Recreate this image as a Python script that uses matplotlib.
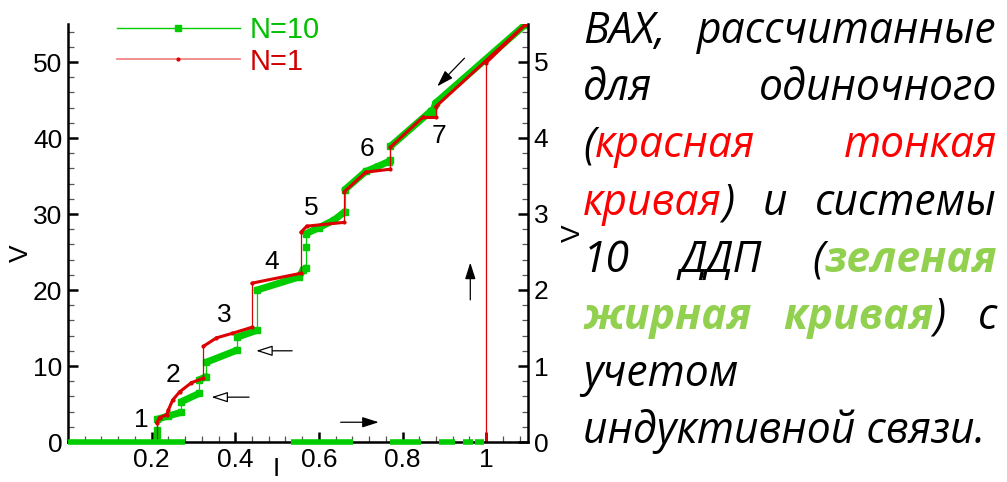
import numpy as np
import matplotlib
matplotlib.use('Agg')
import matplotlib.pyplot as plt
from matplotlib.collections import LineCollection
from matplotlib.lines import Line2D
from matplotlib.ticker import MultipleLocator, FixedLocator, FuncFormatter
import matplotlib.transforms as mtransforms

plt.rcParams['font.family'] = ['Liberation Sans', 'DejaVu Sans']

# ---- данные ----
# N=10, обратная ветвь (левая ось, V)
green_I = [1.093, 0.879, 0.872, 0.869, 0.771, 0.771, 0.767, 0.738, 0.712, 0.662,
           0.662, 0.636, 0.600, 0.569, 0.569, 0.569, 0.562, 0.552, 0.452, 0.452,
           0.405, 0.405, 0.331, 0.331, 0.314, 0.314, 0.271, 0.271, 0.238, 0.214,
           0.214, 0.214, 0.214]
green_V = [54.9, 44.6, 43.4, 43.6, 38.9, 37.1, 36.9, 36.2, 35.6, 33.2,
           30.3, 29.2, 28.2, 27.4, 25.6, 22.9, 22.6, 21.7, 20.0, 14.7,
           13.8, 12.1, 10.5, 8.6, 8.2, 6.4, 5.3, 3.9, 3.4, 3.0,
           1.6, 0.7, 0.0]
# N=10, прямая ветвь: участки V=0, где точки идут густо
green_zero_from = [0.0, 0.533, 0.769, 0.886, 0.945, 0.974]
green_zero_to = [0.280, 0.681, 0.845, 0.926, 0.969, 0.995]

# N=1 (правая ось, V)
red_fwd_I = [0.0, 1.0, 1.0]
red_fwd_V = [0.0, 0.0, 4.99]
red_I = [1.0, 1.093, 0.879, 0.879, 0.850, 0.771, 0.771, 0.712, 0.660, 0.660,
         0.571, 0.557, 0.557, 0.440, 0.440, 0.393, 0.355, 0.324, 0.324, 0.295,
         0.267, 0.250, 0.240, 0.236, 0.219, 0.212, 0.212]
red_V = [4.99, 5.49, 4.41, 4.28, 4.28, 3.88, 3.59, 3.55, 3.29, 2.89,
         2.84, 2.76, 2.22, 2.09, 1.51, 1.43, 1.37, 1.26, 0.84, 0.78,
         0.66, 0.55, 0.42, 0.36, 0.32, 0.25, 0.0]

step_labels = ['1', '2', '3', '4', '5', '6', '7']
step_I = [0.176, 0.250, 0.374, 0.486, 0.581, 0.714, 0.886]
step_V = [2.9, 8.8, 16.7, 23.7, 30.8, 38.6, 40.2]

# стрелки: (откуда I, V) -> (куда I, V), открытая головка или нет
arrow_from = [(0.948, 50.5), (0.962, 18.7), (0.652, 2.6), (0.536, 12.0), (0.433, 5.9)]
arrow_to = [(0.883, 46.8), (0.962, 23.6), (0.743, 2.6), (0.450, 12.0), (0.343, 5.9)]
arrow_open = [False, False, False, True, True]

GREEN = '#00cc00'
RED = '#dd0000'
FS = 19

fig = plt.figure(figsize=(10.07, 4.82), dpi=100)
W, H = 1007, 482
ax = fig.add_axes([68 / W, 40 / H, 460 / W, 418 / H])
ax2 = ax.twinx()

ax.set_xlim(0, 1.1)
ax.set_ylim(0, 55)
ax2.set_ylim(0, 5.5)


def split(I, V):
    pts = np.column_stack([I, V])
    segs = np.stack([pts[:-1], pts[1:]], axis=1)
    vert = np.isclose(segs[:, 0, 0], segs[:, 1, 0])
    return segs[~vert], segs[vert]


# зеленая (N=10) на левой оси
thick, thin = split(green_I, green_V)
ax.add_collection(LineCollection(thick, colors=GREEN, linewidths=5, capstyle='round', zorder=2))
ax.add_collection(LineCollection(thin, colors=GREEN, linewidths=0.9, zorder=2))
ax.plot(green_I, green_V, ls='none', marker='s', ms=4, color=GREEN, zorder=2)

# красная (N=1) на правой оси
ax2.plot(red_fwd_I, red_fwd_V, color=RED, lw=0.9, zorder=1)
thick, thin = split(red_I, red_V)
ax2.add_collection(LineCollection(thick, colors=RED, linewidths=2.2, capstyle='round', zorder=2))
ax2.add_collection(LineCollection(thin, colors=RED, linewidths=0.9, zorder=2))
ax2.plot(red_I, red_V, ls='none', marker='o', ms=2, color=RED, zorder=2)

# густые участки на нуле поверх оси
ax2.hlines(np.zeros(len(green_zero_from)), green_zero_from, green_zero_to,
           colors=GREEN, lw=4, zorder=3, clip_on=False)

# оси
for s in ['top', 'right', 'bottom', 'left']:
    ax.spines[s].set_visible(False)
ax2.spines['top'].set_visible(False)
for s in ['right', 'bottom', 'left']:
    ax2.spines[s].set_linewidth(1.8)

ax.xaxis.set_major_locator(FixedLocator([0.2, 0.4, 0.6, 0.8, 1.0]))
ax.xaxis.set_major_formatter(FuncFormatter(lambda v, p: f'{v:g}'))
ax.xaxis.set_minor_locator(MultipleLocator(0.04))
ax.yaxis.set_major_locator(MultipleLocator(10))
ax.yaxis.set_minor_locator(MultipleLocator(2))
ax2.yaxis.set_major_locator(MultipleLocator(1))
ax2.yaxis.set_minor_locator(MultipleLocator(0.2))

for a in (ax, ax2):
    a.tick_params(which='major', direction='in', length=7, width=1.8, labelsize=FS, pad=4)
    a.tick_params(which='minor', direction='in', length=4, width=0.9, color='#555555')
ax.tick_params(top=False, right=False, which='both')

ax.set_ylabel('V', fontsize=FS)
ax.yaxis.set_label_coords((33 - 68) / 460, 0.452)
ax2.set_ylabel('V', fontsize=FS, rotation=90)
ax2.yaxis.set_label_coords((561 - 68) / 460, 0.5)
ax.set_xlabel('I', fontsize=FS, va='bottom')
ax.xaxis.set_label_coords((276 - 68) / 460, -(481 - 442) / 418)

# номера ступенек
for lab, x, y in zip(step_labels, step_I, step_V):
    ax.text(x, y, lab, fontsize=FS, ha='center', va='center')

# стрелки
for (x0, y0), (x1, y1), op in zip(arrow_from, arrow_to, arrow_open):
    ax.annotate('', xy=(x1, y1), xytext=(x0, y0),
                arrowprops=dict(arrowstyle='-|>,head_length=1.0,head_width=0.32',
                                lw=0.9, color='black',
                                fc='white' if op else 'black', shrinkA=0, shrinkB=0))

# легенда
handles = [Line2D([], [], color=GREEN, lw=1, marker='s', ms=5),
           Line2D([], [], color='#ee8888', lw=1.3, marker='o', ms=2, mfc=RED, mec=RED)]
leg = ax2.legend(handles, ['N=10', 'N=1'], loc='upper left', frameon=False,
                 fontsize=21, numpoints=1, handlelength=4.2, handletextpad=0.35,
                 labelspacing=0.12, borderpad=0, borderaxespad=0,
                 bbox_to_anchor=(117 / W, 1 - 16 / H), bbox_transform=fig.transFigure)
leg.get_texts()[0].set_color('#00c000')
leg.get_texts()[1].set_color('#d00000')

# текст справа
K, R, G = 'black', '#ff0000', '#92d050'
text_lines = [
    ([[('ВАХ,', K, 'normal')], [('рассчитанные', K, 'normal')]], True),
    ([[('для', K, 'normal')], [('одиночного', K, 'normal')]], True),
    ([[('(', K, 'normal'), ('красная', R, 'normal')], [('тонкая', R, 'normal')]], True),
    ([[('кривая', R, 'normal'), (')', K, 'normal')], [('и', K, 'normal')], [('системы', K, 'normal')]], True),
    ([[('10', K, 'normal')], [('ДДП', K, 'normal')], [('(', K, 'normal'), ('зеленая', G, 'bold')]], True),
    ([[('жирная', G, 'bold')], [('кривая', G, 'bold'), (')', K, 'normal')], [('с', K, 'normal')]], True),
    ([[('учетом', K, 'normal')]], False),
    ([[('индуктивной связи.', K, 'normal')]], False),
]
txt_family = ['Open Sans', 'DejaVu Sans']
x_left, x_right = 583, 997
ident = mtransforms.IdentityTransform()
fig.canvas.draw()
rend = fig.canvas.get_renderer()

# подбор кегля по ширине последней строки (в оригинале ~402 px)
probe = fig.text(0, 0, 'индуктивной связи.', transform=ident, fontsize=29,
                 style='italic', family=txt_family)
txt_size = 29 * 402 / probe.get_window_extent(rend).width
probe.remove()

for k, (words, justify) in enumerate(text_lines):
    ybase = H - (43 + 57.2 * k)
    objs = []
    widths = []
    for w in words:
        pieces = []
        for s, c, fw in w:
            t = fig.text(0, ybase, s, transform=ident, fontsize=txt_size, style='italic',
                         weight=fw, color=c, family=txt_family, va='baseline', ha='left')
            pieces.append((t, t.get_window_extent(rend).width))
        objs.append(pieces)
        widths.append(sum(p[1] for p in pieces))
    if justify and len(words) > 1:
        gap = (x_right - x_left - sum(widths)) / (len(words) - 1)
    else:
        gap = 10
    x = x_left
    for pieces, wd in zip(objs, widths):
        xx = x
        for t, pw in pieces:
            t.set_x(xx)
            xx += pw
        x += wd + gap

fig.savefig('out.png', dpi=100)
